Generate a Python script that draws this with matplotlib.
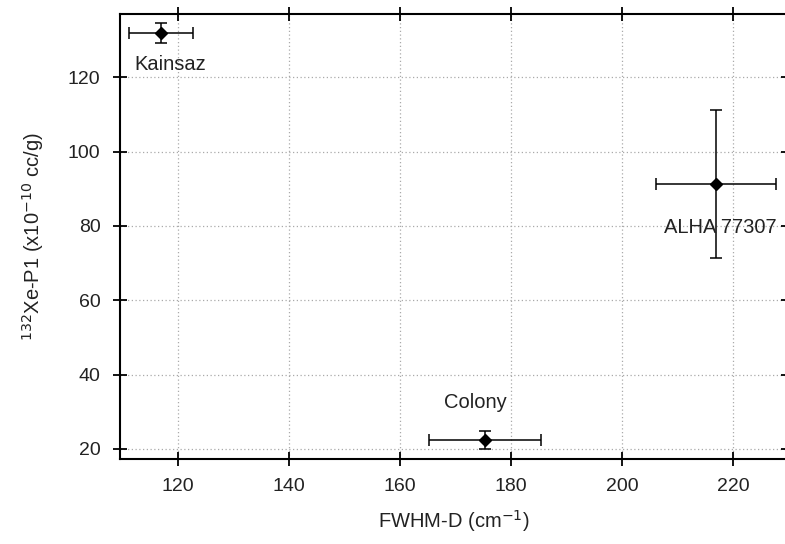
import matplotlib.pyplot as plt

# data
names = ["Kainsaz", "ALHA 77307", "Colony"]
fwhm = [117.0, 216.9, 175.3]
fwhm_err = [5.7, 10.8, 10.1]
xe = [131.8, 91.2, 22.4]
xe_err = [2.7, 19.9, 2.4]
label_x = [118.7, 217.7, 173.6]
label_y = [123.4, 79.5, 32.4]

plt.rcParams['font.family'] = ['Liberation Sans', 'DejaVu Sans']

fig = plt.figure(figsize=(7.85, 5.44), dpi=100)
ax = fig.add_axes([120 / 785, 1 - 459 / 544, 668 / 785, 445 / 544])

ax.errorbar(fwhm, xe, xerr=fwhm_err, yerr=xe_err, fmt='D', color='black',
            ms=6, elinewidth=1.1, capsize=4, capthick=1.1)

for n, tx, ty in zip(names, label_x, label_y):
    ax.text(tx, ty, n, ha='center', va='center', fontsize=14.5, color='#222222')

ax.set_xlim(109.6, 229.9)
ax.set_ylim(17.3, 137.0)
ax.set_xticks([120, 140, 160, 180, 200, 220])
ax.set_yticks([20, 40, 60, 80, 100, 120])

ax.grid(True, color='#aaaaaa', linestyle=(0, (1, 2)), linewidth=0.9)
ax.set_axisbelow(True)
for s in ax.spines.values():
    s.set_linewidth(1.5)
ax.tick_params(direction='inout', length=10, width=1.3, labelsize=14,
               top=True, right=True, labelcolor='#222222', pad=9)

ax.set_xlabel('FWHM-D (cm$^{-1}$)', fontsize=14.5, color='#222222', labelpad=9)
ax.set_ylabel('$^{132}$Xe-P1 (x10$^{-10}$ cc/g)', fontsize=14.5, color='#222222',
              labelpad=16)

fig.savefig('out.png', dpi=100)
